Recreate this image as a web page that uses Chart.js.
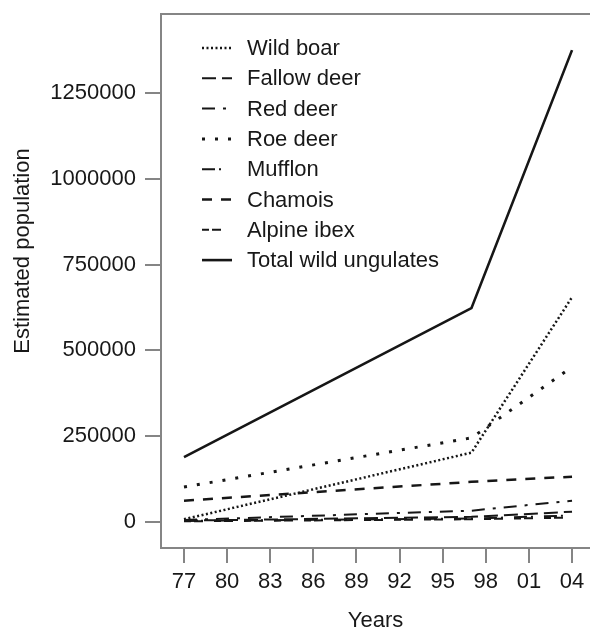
<!DOCTYPE html>
<html>
<head>
<meta charset="utf-8">
<script src="https://cdn.jsdelivr.net/npm/chart.js@4/dist/chart.umd.min.js"></script>
<style>
  html, body { margin: 0; padding: 0; background: #fff; overflow: hidden; }
  canvas { display: block; }
</style>
</head>
<body>
<canvas id="chart" width="590" height="628"></canvas>
<script>
// Survey years and estimated head counts of wild ungulates
const years = [1977, 1997, 2004];
const wildBoar   = [8000, 202000, 655000];
const fallowDeer = [4000, 15000, 30000];
const redDeer    = [6000, 33000, 62000];
const roeDeer    = [102000, 245000, 452000];
const mufflon    = [3000, 10000, 19000];
const chamois    = [62000, 117000, 132000];
const alpineIbex = [2000, 8000, 13000];
const totalUngulates = [189000, 623000, 1375000];

const xTickYears = [1977, 1980, 1983, 1986, 1989, 1992, 1995, 1998, 2001, 2004];
const yTickValues = [0, 250000, 500000, 750000, 1000000, 1250000];

const INK = '#161616';
const AXIS = '#858585';
const TEXT = '#181818';
const FONT = '"Liberation Sans", Arial, Helvetica, sans-serif';

Chart.defaults.font.family = FONT;
Chart.defaults.font.size = 22;
Chart.defaults.color = TEXT;

const toPoints = (vals) => vals.map((v, i) => ({ x: years[i], y: v }));

function series(label, vals, dash, width) {
  return {
    label,
    data: toPoints(vals),
    borderColor: INK,
    borderWidth: width,
    borderDash: dash,
    borderCapStyle: 'butt',
    pointRadius: 0,
    tension: 0,
    fill: false
  };
}

// Legend drawn as line samples inside the plot, top left
const inlineLegend = {
  id: 'inlineLegend',
  afterDatasetsDraw(chart) {
    const { ctx, chartArea } = chart;
    ctx.save();
    ctx.font = '22px ' + FONT;
    ctx.textBaseline = 'middle';
    ctx.textAlign = 'left';
    chart.data.datasets.forEach((ds, i) => {
      const y = chartArea.top + 34 + i * 30.3;
      const x0 = chartArea.left + 41;
      ctx.setLineDash(ds.borderDash || []);
      ctx.lineCap = 'butt';
      ctx.lineWidth = ds.borderWidth;
      ctx.strokeStyle = ds.borderColor;
      ctx.beginPath();
      ctx.moveTo(x0, y);
      ctx.lineTo(x0 + 30, y);
      ctx.stroke();
      ctx.setLineDash([]);
      ctx.fillStyle = TEXT;
      ctx.fillText(ds.label, x0 + 45, y + 1);
    });
    ctx.restore();
  }
};

// Vertical axis caption
const yCaption = {
  id: 'yCaption',
  afterDraw(chart) {
    const { ctx, chartArea } = chart;
    ctx.save();
    ctx.font = '22px ' + FONT;
    ctx.fillStyle = TEXT;
    ctx.textAlign = 'center';
    ctx.textBaseline = 'middle';
    ctx.translate(23, chartArea.top + 237);
    ctx.rotate(-Math.PI / 2);
    ctx.fillText('Estimated population', 0, 0);
    ctx.restore();
  }
};

new Chart(document.getElementById('chart'), {
  type: 'line',
  data: {
    datasets: [
      series('Wild boar', wildBoar, [2, 2.5], 2.5),
      series('Fallow deer', fallowDeer, [14, 6], 2),
      series('Red deer', redDeer, [13, 8, 3, 8], 2),
      series('Roe deer', roeDeer, [3, 10], 3),
      series('Mufflon', mufflon, [13, 4, 2, 11], 2),
      series('Chamois', chamois, [10, 9], 2.5),
      series('Alpine ibex', alpineIbex, [7, 3, 9, 11], 2),
      series('Total wild ungulates', totalUngulates, [], 2.6)
    ]
  },
  options: {
    responsive: false,
    animation: false,
    devicePixelRatio: 1,
    layout: { padding: 0 },
    plugins: {
      legend: { display: false },
      tooltip: { enabled: false }
    },
    scales: {
      x: {
        type: 'linear',
        position: 'bottom',
        min: 1975.4,
        max: 2005.25,
        afterBuildTicks: (s) => { s.ticks = xTickYears.map(v => ({ value: v })); },
        afterFit: (s) => { s.height = 80; s.paddingLeft = 0; s.paddingRight = 0; },
        ticks: {
          padding: 6,
          autoSkip: false,
          maxRotation: 0,
          callback: (v) => String(v % 100).padStart(2, '0')
        },
        grid: { drawOnChartArea: false, drawTicks: true, tickLength: 15, color: AXIS, lineWidth: 2 },
        border: { display: true, color: AXIS, width: 2 },
        title: { display: true, text: 'Years', padding: { top: 0, bottom: -6 } }
      },
      xTop: {
        type: 'linear',
        position: 'top',
        min: 1975.4,
        max: 2005.25,
        afterBuildTicks: (s) => { s.ticks = []; },
        afterFit: (s) => { s.height = 14; s.paddingLeft = 0; s.paddingRight = 0; },
        ticks: { display: false },
        grid: { display: false },
        border: { display: true, color: AXIS, width: 2 }
      },
      y: {
        type: 'linear',
        min: -75760,
        max: 1480200,
        afterBuildTicks: (s) => { s.ticks = yTickValues.map(v => ({ value: v })); },
        afterFit: (s) => { s.width = 161; s.paddingTop = 0; s.paddingBottom = 0; },
        ticks: { padding: 9, callback: (v) => String(v) },
        grid: { drawOnChartArea: false, drawTicks: true, tickLength: 16, color: AXIS, lineWidth: 2 },
        border: { display: true, color: AXIS, width: 2 }
      }
    }
  },
  plugins: [inlineLegend, yCaption]
});
</script>
</body>
</html>
